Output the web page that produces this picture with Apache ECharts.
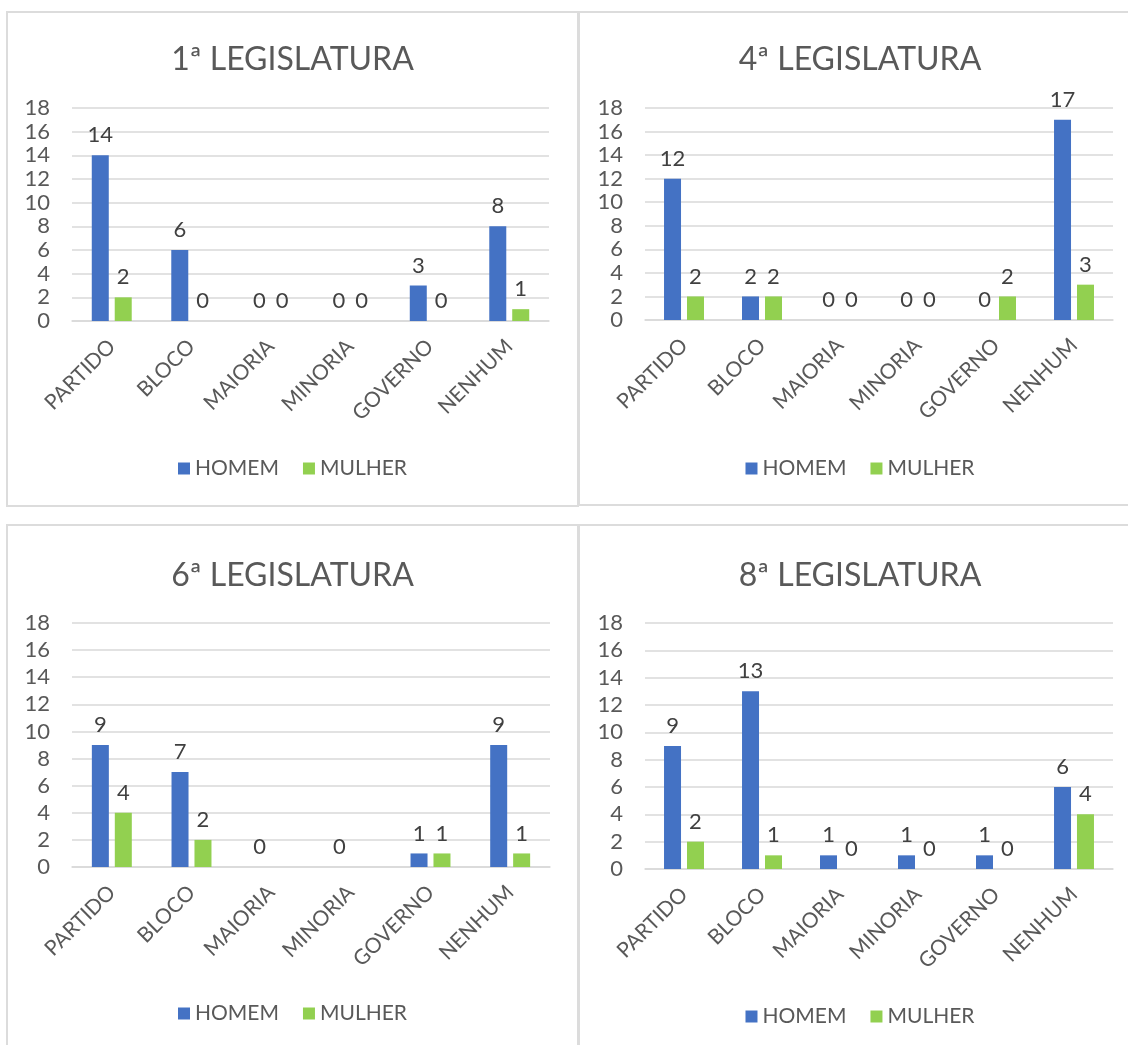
<!DOCTYPE html>
<html>
<head>
<meta charset="utf-8">
<script src="https://cdn.jsdelivr.net/npm/echarts@6/dist/echarts.min.js"></script>
<style>
  html, body { margin: 0; padding: 0; background: #fff; overflow: hidden; }
  body { width: 1128px; height: 1045px; position: relative; }
  .panel { position: absolute; border: 2px solid #dcdcdc; box-sizing: border-box; background: #fff; }
</style>
</head>
<body>
<div class="panel" id="p1" style="left:6px;top:11px;width:573px;height:496px"></div>
<div class="panel" id="p2" style="left:578px;top:11px;width:564px;height:495px"></div>
<div class="panel" id="p3" style="left:6px;top:524px;width:573px;height:540px"></div>
<div class="panel" id="p4" style="left:578px;top:524px;width:564px;height:540px"></div>
<script>
var categories = ['PARTIDO', 'BLOCO', 'MAIORIA', 'MINORIA', 'GOVERNO', 'NENHUM'];
var seriesNames = ['HOMEM', 'MULHER'];
var titles = ['1ª LEGISLATURA', '4ª LEGISLATURA', '6ª LEGISLATURA', '8ª LEGISLATURA'];

var homem1 = [14, 6, 0, 0, 3, 8];
var mulher1 = [2, 0, 0, 0, 0, 1];
var homem4 = [12, 2, 0, 0, 0, 17];
var mulher4 = [2, 2, 0, 0, 2, 3];
var homem6 = [9, 7, 0, 0, 1, 9];
var mulher6 = [4, 2, null, null, 1, 1];
var homem8 = [9, 13, 1, 1, 1, 6];
var mulher8 = [2, 1, 0, 0, 0, 4];

var yTicks = [0, 18, 2]; // min, max, interval

var FONT = 'Lato, "Open Sans", sans-serif';

// layout of each panel (relative to its box)
var layouts = [
  { id: 'p1', gridLeft: 64, gridTop: 95, gridW: 477, gridH: 213, titleTop: 26, legendTop: 440, homem: homem1, mulher: mulher1 },
  { id: 'p2', gridLeft: 65, gridTop: 95, gridW: 468, gridH: 212, titleTop: 26, legendTop: 440, homem: homem4, mulher: mulher4 },
  { id: 'p3', gridLeft: 64, gridTop: 97, gridW: 478, gridH: 244, titleTop: 29, legendTop: 472, homem: homem6, mulher: mulher6 },
  { id: 'p4', gridLeft: 65, gridTop: 97, gridW: 468, gridH: 246, titleTop: 29, legendTop: 475, homem: homem8, mulher: mulher8 }
];

layouts.forEach(function (l, i) {
  var chart = echarts.init(document.getElementById(l.id), null, { renderer: 'canvas' });
  var label = {
    show: true,
    position: 'top',
    distance: 9,
    color: '#404040',
    fontSize: 22,
    fontFamily: FONT
  };
  chart.setOption({
    animation: false,
    textStyle: { fontFamily: FONT },
    color: ['#4472C4', '#92D050'],
    title: {
      text: titles[i],
      left: 'center',
      top: l.titleTop,
      textStyle: { color: '#595959', fontSize: 32, fontWeight: 'normal', fontFamily: FONT }
    },
    legend: {
      data: seriesNames,
      left: 'center',
      top: l.legendTop,
      icon: 'rect',
      itemWidth: 12,
      itemHeight: 12,
      itemGap: 24,
      textStyle: { color: '#595959', fontSize: 21, fontFamily: FONT }
    },
    grid: { left: l.gridLeft, top: l.gridTop, width: l.gridW, height: l.gridH, containLabel: false },
    xAxis: {
      type: 'category',
      data: categories,
      axisLine: { lineStyle: { color: '#d9d9d9', width: 1.5 } },
      axisTick: { show: false },
      axisLabel: { interval: 0, rotate: 45, margin: 22, color: '#595959', fontSize: 21, fontFamily: FONT }
    },
    yAxis: {
      type: 'value',
      min: yTicks[0],
      max: yTicks[1],
      interval: yTicks[2],
      axisLine: { show: false },
      axisTick: { show: false },
      axisLabel: { margin: 22, color: '#595959', fontSize: 22, fontFamily: FONT },
      splitLine: { lineStyle: { color: '#d9d9d9', width: 1.5 } }
    },
    series: [
      { name: seriesNames[0], type: 'bar', data: l.homem, barWidth: 17, barGap: '35%', label: label },
      { name: seriesNames[1], type: 'bar', data: l.mulher, barWidth: 17, label: label }
    ]
  });
});
</script>
</body>
</html>
